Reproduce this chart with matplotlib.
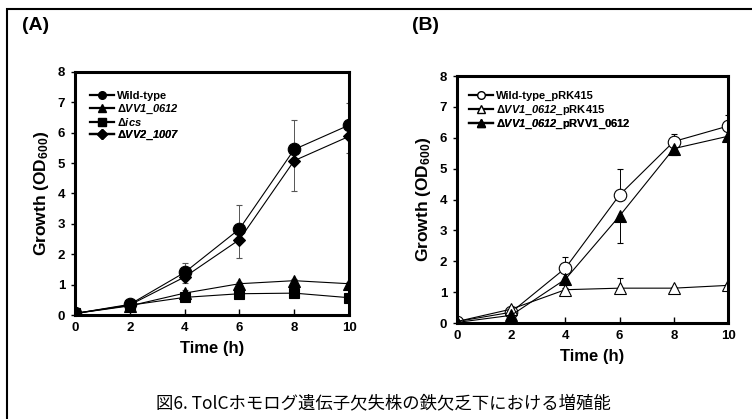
import matplotlib
matplotlib.use("Agg")
import matplotlib.pyplot as plt
from matplotlib.lines import Line2D
from matplotlib.patches import Rectangle

plt.rcParams["font.family"] = ["Liberation Sans", "DejaVu Sans"]
plt.rcParams["mathtext.fontset"] = "custom"
plt.rcParams["mathtext.rm"] = "Liberation Sans"
plt.rcParams["mathtext.bf"] = "Liberation Sans:bold"
plt.rcParams["mathtext.it"] = "Liberation Sans:italic"
plt.rcParams["mathtext.bfit"] = "Liberation Sans:italic:bold"

# time points (h)
time_h = [0, 2, 4, 6, 8, 10]

# panel A
a_wt = [0.05, 0.35, 1.40, 2.83, 5.45, 6.25]
a_wt_err = [0.0, 0.02, 0.32, 0.79, 0.97, 0.73]
a_vv1 = [0.05, 0.30, 0.72, 1.03, 1.13, 1.03]
a_vv1_err = [0.0, 0.02, 0.10, 0.05, 0.05, 0.05]
a_ics = [0.05, 0.32, 0.58, 0.70, 0.72, 0.57]
a_ics_err = [0.0, 0.02, 0.05, 0.05, 0.05, 0.05]
a_vv2 = [0.05, 0.33, 1.25, 2.48, 5.08, 5.88]
a_vv2_err = [0.0, 0.02, 0.18, 0.60, 1.00, 0.55]

# panel B
b_wt = [0.05, 0.35, 1.78, 4.15, 5.88, 6.38]
b_wt_err = [0.0, 0.03, 0.35, 0.85, 0.25, 0.35]
b_vv1 = [0.05, 0.45, 1.08, 1.13, 1.13, 1.22]
b_vv1_err = [0.0, 0.03, 0.05, 0.33, 0.05, 0.05]
b_comp = [0.02, 0.25, 1.42, 3.47, 5.65, 6.05]
b_comp_err = [0.0, 0.03, 0.10, 0.88, 0.22, 0.10]

caption = "図6. TolCホモログ遺伝子欠失株の鉄欠乏下における増殖能"


def style_axes(ax):
    ax.set_xlim(0, 10)
    ax.set_ylim(0, 8)
    ax.set_xticks(time_h)
    ax.set_yticks(range(0, 9))
    for s in ax.spines.values():
        s.set_linewidth(2.2)
    ax.tick_params(axis="x", direction="in", length=4, width=1, labelsize=9.5, pad=5)
    ax.tick_params(axis="y", direction="out", length=3, width=1, labelsize=9.5, pad=4)
    for lab in ax.get_xticklabels() + ax.get_yticklabels():
        lab.set_fontweight("bold")
    ax.set_xlabel("Time (h)", fontsize=12, fontweight="bold", labelpad=5)
    ax.set_ylabel(r"Growth (OD$_{\mathbf{600}}$)", fontsize=12.5, fontweight="bold", labelpad=5)


def series(ax, y, err, up, marker, ms, face, ecolor):
    lower = [0 if up else e for e in err]
    upper = [e if up else 0 for e in err]
    ax.errorbar(time_h, y, yerr=[lower, upper], color="black", lw=0.8,
                marker=marker, ms=ms, mfc=face, mec="black", mew=0.8,
                ecolor=ecolor, elinewidth=0.7, capsize=2.5, capthick=0.7)


def add_legend(ax, entries, x0, y0, dy, size):
    # one legend per row so rows stay evenly spaced
    for i, (marker, face, label) in enumerate(entries):
        h = Line2D([], [], color="black", lw=1.6, marker=marker, ms=5.5,
                   mfc=face, mec="black", mew=1.0)
        leg = ax.legend([h], [label], loc="center left",
                        bbox_to_anchor=(x0, y0 - i * dy), frameon=False,
                        prop={"size": size, "weight": "bold"}, handlelength=2.2,
                        handletextpad=0.25, borderpad=0.0, borderaxespad=0.0)
        ax.add_artist(leg)


fig = plt.figure(figsize=(7.52, 4.19), dpi=100)
fig.patches.append(Rectangle((7 / 752, -0.1), 1.0, 1.1 - 9 / 419, transform=fig.transFigure,
                             fill=False, edgecolor="black", lw=1.5))

axa = fig.add_axes([0.0997, 0.2482, 0.3644, 0.58])
series(axa, a_wt, a_wt_err, True, "o", 9, "black", "#555555")
series(axa, a_vv1, a_vv1_err, True, "^", 9, "black", "#555555")
series(axa, a_ics, a_ics_err, False, "s", 7, "black", "#555555")
series(axa, a_vv2, a_vv2_err, False, "D", 6.5, "black", "#555555")
style_axes(axa)
add_legend(axa, [("o", "black", "Wild-type"),
                 ("^", "black", r"$\mathbf{\Delta}\mathbfit{VV1\_0612}$"),
                 ("s", "black", r"$\mathbf{\Delta}\mathbfit{ics}$"),
                 ("D", "black", r"$\mathbf{\Delta}\mathbfit{VV2\_1007}$")],
           0.055, 0.902, 0.054, 8)

axb = fig.add_axes([0.6077, 0.229, 0.3604, 0.5895])
series(axb, b_wt, b_wt_err, True, "o", 9, "white", "black")
series(axb, b_vv1, b_vv1_err, True, "^", 9, "white", "black")
series(axb, b_comp, b_comp_err, False, "^", 9, "black", "black")
style_axes(axb)
add_legend(axb, [("o", "white", "Wild-type_pRK415"),
                 ("^", "white", r"$\mathbf{\Delta}\mathbfit{VV1\_0612}\mathbf{\_pRK415}$"),
                 ("^", "black", r"$\mathbf{\Delta}\mathbfit{VV1\_0612}\mathbf{\_pRVV1\_0612}$")],
           0.044, 0.920, 0.058, 8)

fig.text(22 / 752, 1 - 26 / 419, "(A)", fontsize=14, fontweight="bold", va="center")
fig.text(412 / 752, 1 - 26 / 419, "(B)", fontsize=14, fontweight="bold", va="center")
fig.text(383 / 752, 1 - 403 / 419, caption, ha="center", va="center", fontsize=12.5,
         family=["Noto Sans CJK JP", "DejaVu Sans"])

fig.savefig("out.png", dpi=100)
